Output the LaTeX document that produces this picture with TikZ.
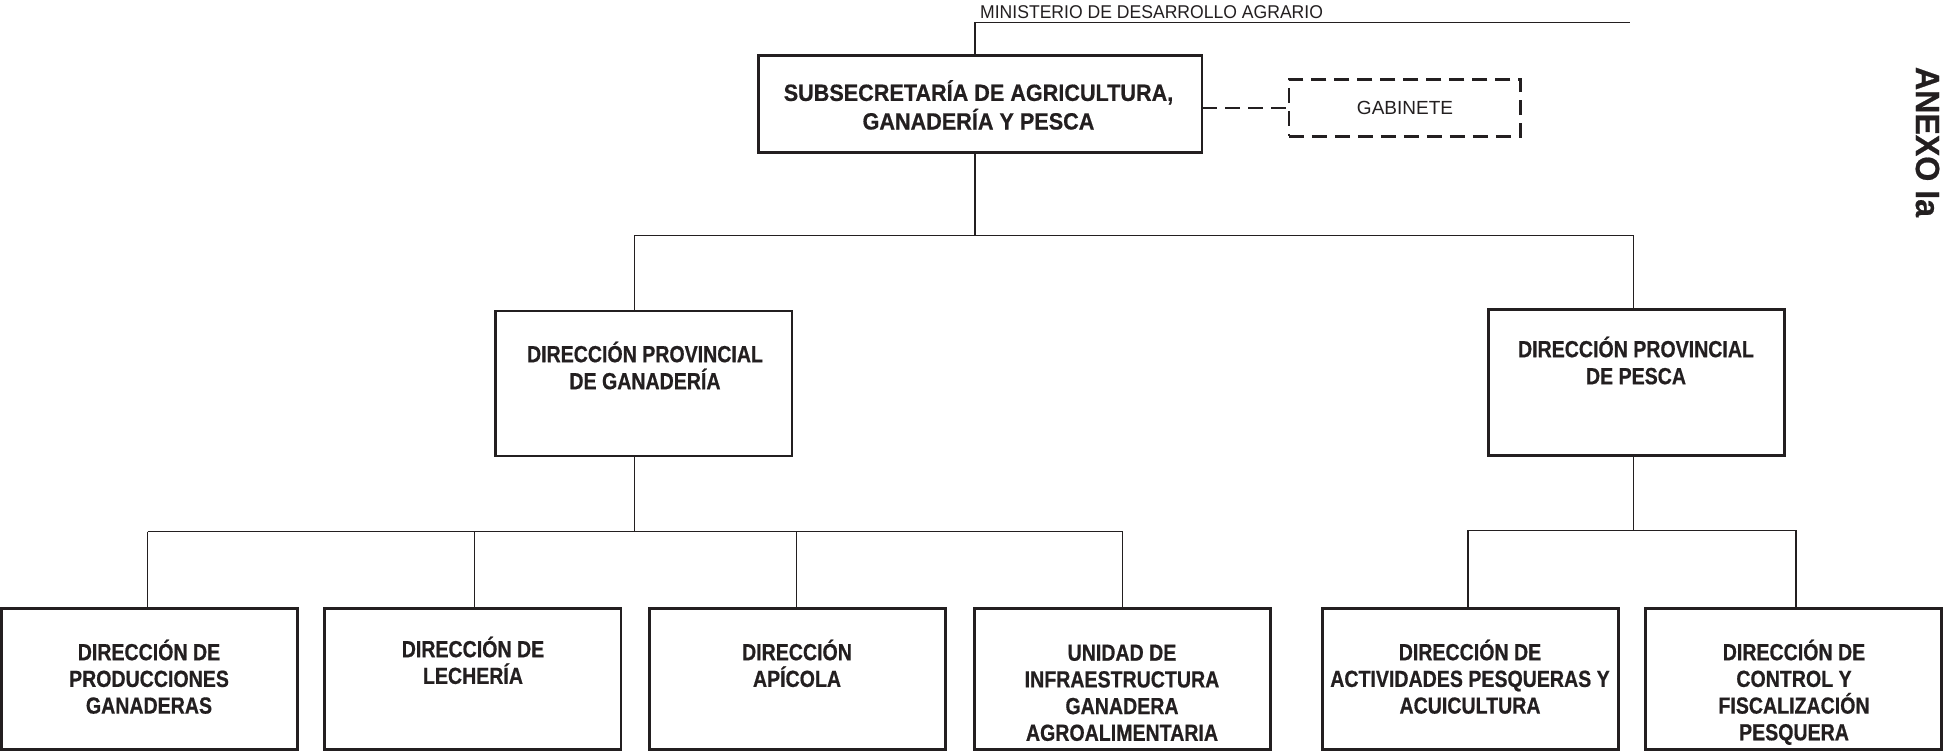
\documentclass[tikz,border=0pt]{standalone}
\usepackage{fontspec}
\setmainfont{Liberation Sans}
\newfontfamily\condb{Liberation Sans}[FakeStretch=0.84,FakeBold=0.6]
\newfontfamily\subb{Liberation Sans}[FakeStretch=0.92,FakeBold=0.6]
\newfontfamily\anexob{Liberation Sans}[FakeStretch=0.96,FakeBold=0.6]
\newfontfamily\condr{Liberation Sans}[FakeStretch=0.95]
\definecolor{ink}{HTML}{231F20}
\newcommand{\sr}{\rule{0pt}{1em}}
\begin{document}
\begin{tikzpicture}[x=1pt,y=-1pt,
  box/.style={draw=ink,line width=2.6pt,inner sep=0pt,outer sep=0pt,fill=white},
  dbox/.style={box,line width=2.4pt,dash pattern=on 15pt off 8pt},
  conn/.style={draw=ink,line width=1.1pt},
  dconn/.style={draw=ink,line width=2.4pt,dash pattern=on 15pt off 8pt},
  tbig/.style={text=ink,align=center,inner sep=0pt,anchor=north,font=\fontsize{23.5}{28.6}\subb\bfseries},
  tmid/.style={text=ink,align=center,inner sep=0pt,anchor=north,font=\fontsize{23.3}{27}\condb\bfseries},
  tlow/.style={text=ink,align=center,inner sep=0pt,anchor=north,font=\fontsize{23.3}{26.7}\condb\bfseries},
  tsmall/.style={text=ink,inner sep=0pt,font=\fontsize{18.5}{20}\condr},
  bottombox/.style={box,minimum width=296.3pt,minimum height=141.2pt},
  midbox/.style={box,minimum width=296.3pt,minimum height=145pt}]
\useasboundingbox (0,0) rectangle (1943,752);
\fill[white] (0,0) rectangle (1943,752);

% top line
\coordinate (m0) at (1629.5,22.3);
\coordinate (m1) at (975,22.3);
\node[tsmall,anchor=base west] (min) at (980,18.3) {MINISTERIO DE DESARROLLO AGRARIO};

% boxes (text nodes: north = first baseline - 1em)
\node[box,minimum width=443.6pt,minimum height=96.6pt] (sub) at (980.2,104.1) {};
\node[tbig] (tsub) at (978.5,{100.7-23.5}) {\sr SUBSECRETARÍA DE AGRICULTURA,\\GANADERÍA Y PESCA};
\node[dbox,minimum width=231.7pt,minimum height=57pt] (gab) at (1404.7,107.8) {};
\node[tsmall,font=\fontsize{19}{20}\selectfont] (tgab) at (1405,108) {GABINETE};

\node[midbox] (dpg) at (643.9,383.5) {};
\node[tmid] (tdpg) at (645,{362-23.3}) {\sr DIRECCIÓN PROVINCIAL\\DE GANADERÍA};
\node[midbox,minimum height=146pt] (dpp) at (1636.5,382.5) {};
\node[tmid] (tdpp) at (1636,{357-23.3}) {\sr DIRECCIÓN PROVINCIAL\\DE PESCA};

\node[bottombox] (b1) at (149.4,679.1) {};
\node[tlow] (t1) at (149,{660-23.3}) {\sr DIRECCIÓN DE\\PRODUCCIONES\\GANADERAS};
\node[bottombox] (b2) at (472.8,679.1) {};
\node[tlow] (t2) at (473,{657-23.3}) {\sr DIRECCIÓN DE\\LECHERÍA};
\node[bottombox] (b3) at (797.4,679.1) {};
\node[tlow] (t3) at (797,{660-23.3}) {\sr DIRECCIÓN\\APÍCOLA};
\node[bottombox] (b4) at (1122.4,679.1) {};
\node[tlow] (t4) at (1122,{660.5-23.3}) {\sr UNIDAD DE\\INFRAESTRUCTURA\\GANADERA\\AGROALIMENTARIA};
\node[bottombox] (b5) at (1470.4,679.1) {};
\node[tlow] (t5) at (1470,{660-23.3}) {\sr DIRECCIÓN DE\\ACTIVIDADES PESQUERAS Y\\ACUICULTURA};
\node[bottombox] (b6) at (1793.6,679.1) {};
\node[tlow] (t6) at (1794,{660-23.3}) {\sr DIRECCIÓN DE\\CONTROL Y\\FISCALIZACIÓN\\PESQUERA};

% side label
\node[text=ink,inner sep=0pt,rotate=-90,font=\fontsize{33.5}{36}\anexob\bfseries] (anexo) at (1927.5,142) {ANEXO Ia};

% connectors
\draw[conn] (m0) -- (m1) -- (m1 |- sub.north);
\draw[dconn] (gab.west -| sub.east) -- (gab.west);
\coordinate (j1) at (975,235.4);
\coordinate (j1l) at (634.5,235.4);
\coordinate (j1r) at (1633.3,235.4);
\draw[conn] (j1 |- sub.south) -- (j1);
\draw[conn] (j1l |- dpg.north) -- (j1l) -- (j1r) -- (j1r |- dpp.north);

\coordinate (j2) at (634.5,531.6);
\coordinate (c1) at (147.5,531.6);
\coordinate (c2) at (474.6,531.6);
\coordinate (c3) at (796.8,531.6);
\coordinate (c4) at (1122.7,531.6);
\draw[conn] (j2 |- dpg.south) -- (j2);
\draw[conn] (c1) -- (c4);
\draw[conn] (c1) -- (c1 |- b1.north);
\draw[conn] (c2) -- (c2 |- b2.north);
\draw[conn] (c3) -- (c3 |- b3.north);
\draw[conn] (c4) -- (c4 |- b4.north);

\coordinate (j3) at (1633.3,530.4);
\coordinate (c5) at (1468,530.4);
\coordinate (c6) at (1796,530.4);
\draw[conn] (j3 |- dpp.south) -- (j3);
\draw[conn] (c5) -- (c6);
\draw[conn] (c5) -- (c5 |- b5.north);
\draw[conn] (c6) -- (c6 |- b6.north);
\end{tikzpicture}
\end{document}
